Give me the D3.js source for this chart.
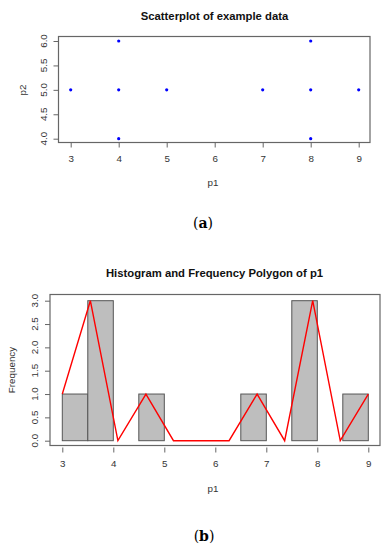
<!DOCTYPE html>
<html>
<head>
<meta charset="utf-8">
<script src="https://cdn.jsdelivr.net/npm/d3@7"></script>
<style>
  body { margin: 0; background: #fff; }
  svg { display: block; }
  text { font-family: "Liberation Sans", Arial, sans-serif; fill: #333; }
</style>
</head>
<body>
<figure id="chart" style="margin:0"></figure>
<script>
// scatter data (p1, p2)
const p1 = [3, 4, 4, 4, 5, 7, 8, 8, 8, 9];
const p2 = [5, 6, 5, 4, 5, 5, 6, 5, 4, 5];
const scatterXTicks = [3, 4, 5, 6, 7, 8, 9];
const scatterYTicks = [4.0, 4.5, 5.0, 5.5, 6.0];

// histogram bins of p1
const binStart = [3.0, 3.5, 4.0, 4.5, 5.0, 5.5, 6.0, 6.5, 7.0, 7.5, 8.0, 8.5];
const binEnd   = [3.5, 4.0, 4.5, 5.0, 5.5, 6.0, 6.5, 7.0, 7.5, 8.0, 8.5, 9.0];
const binCount = [1, 3, 0, 1, 0, 0, 0, 1, 0, 3, 0, 1];

// frequency polygon
const polyX = [3.0, 3.55, 4.09, 4.64, 5.18, 5.73, 6.27, 6.82, 7.36, 7.91, 8.45, 9.0];
const polyY = [1, 3, 0, 1, 0, 0, 0, 1, 0, 3, 0, 1];
const histXTicks = [3, 4, 5, 6, 7, 8, 9];
const histYTicks = [0.0, 0.5, 1.0, 1.5, 2.0, 2.5, 3.0];

const width = 387, height = 550;
const svg = d3.select("#chart").append("svg")
  .attr("width", width)
  .attr("height", height);

const axisCol = "#666";
const fmt1 = d3.format(".1f");
const labSize = "9.8px";

// ---------- (a) scatterplot ----------
const sx = d3.scaleLinear().domain([3, 9]).range([70.7, 358.7]);
const sy = d3.scaleLinear().domain([4, 6]).range([138.7, 41]);
const boxA = { l: 58.5, r: 370, t: 36.5, b: 142.5 };

svg.append("text")
  .attr("x", 214.5).attr("y", 20)
  .attr("text-anchor", "middle")
  .style("font-size", "11.3px").style("font-weight", "bold")
  .style("fill", "#111")
  .text("Scatterplot of example data");

svg.append("rect")
  .attr("x", boxA.l).attr("y", boxA.t)
  .attr("width", boxA.r - boxA.l).attr("height", boxA.b - boxA.t)
  .attr("fill", "none").attr("stroke", axisCol).attr("stroke-width", 1.2);

// x axis
const axA = svg.append("g")
  .attr("transform", "translate(0," + boxA.b + ")")
  .call(d3.axisBottom(sx).tickValues(scatterXTicks).tickSize(5).tickPadding(8).tickFormat(d3.format("d")));
axA.select(".domain").remove();
axA.selectAll("line").attr("stroke", axisCol);
axA.selectAll("text").style("font-size", labSize).attr("fill", "#333");

// y axis
const ayA = svg.append("g")
  .attr("transform", "translate(" + boxA.l + ",0)")
  .call(d3.axisLeft(sy).tickValues(scatterYTicks).tickSize(5).tickFormat(""));
ayA.select(".domain").remove();
ayA.selectAll("line").attr("stroke", axisCol);
svg.append("g").selectAll("text")
  .data(scatterYTicks)
  .enter()
  .append("text")
  .attr("transform", d => "translate(46.5," + sy(d) + ") rotate(-90)")
  .attr("text-anchor", "middle")
  .style("font-size", labSize)
  .text(d => fmt1(d));

svg.append("text")
  .attr("x", 213).attr("y", 185.5)
  .attr("text-anchor", "middle").style("font-size", labSize)
  .text("p1");
svg.append("text")
  .attr("transform", "translate(25.5,90) rotate(-90)")
  .attr("text-anchor", "middle").style("font-size", labSize)
  .text("p2");

// dots
svg.append("g").selectAll("circle")
  .data(p1)
  .enter()
  .append("circle")
  .attr("cx", d => sx(d))
  .attr("cy", (d, i) => sy(p2[i]))
  .attr("r", 1.6)
  .style("fill", "#0000ff");

svg.append("text")
  .attr("x", 203).attr("y", 228)
  .attr("text-anchor", "middle")
  .style("font-family", "'DejaVu Serif', 'Liberation Serif', serif")
  .style("font-size", "14px").style("fill", "#000")
  .html('(<tspan style="font-weight:bold">a</tspan>)');

// ---------- (b) histogram ----------
const hx = d3.scaleLinear().domain([3, 9]).range([62.3, 368.3]);
const hy = d3.scaleLinear().domain([0, 3]).range([440.7, 300.7]);
const boxB = { l: 50, r: 380, t: 294.5, b: 445.5 };

svg.append("text")
  .attr("x", 214.5).attr("y", 276.5)
  .attr("text-anchor", "middle")
  .style("font-size", "11.3px").style("font-weight", "bold")
  .style("fill", "#111")
  .text("Histogram and Frequency Polygon of p1");

svg.append("rect")
  .attr("x", boxB.l).attr("y", boxB.t)
  .attr("width", boxB.r - boxB.l).attr("height", boxB.b - boxB.t)
  .attr("fill", "none").attr("stroke", axisCol).attr("stroke-width", 1.2);

// bars
svg.append("g").selectAll("rect")
  .data(binCount)
  .enter()
  .append("rect")
  .attr("x", (d, i) => hx(binStart[i]))
  .attr("y", d => hy(d))
  .attr("width", (d, i) => hx(binEnd[i]) - hx(binStart[i]))
  .attr("height", d => hy(0) - hy(d))
  .attr("fill", "#bebebe")
  .attr("stroke", "#555")
  .attr("stroke-width", 1);

// polygon
const line = d3.line()
  .x(d => hx(d[0]))
  .y(d => hy(d[1]));
svg.append("path")
  .datum(polyX.map((x, i) => [x, polyY[i]]))
  .attr("d", line)
  .attr("fill", "none")
  .attr("stroke", "#ff0000")
  .attr("stroke-width", 1.4);

// x axis
const axB = svg.append("g")
  .attr("transform", "translate(0,447.5)")
  .call(d3.axisBottom(hx).tickValues(histXTicks).tickSize(5).tickPadding(8).tickFormat(d3.format("d")));
axB.select(".domain").remove();
axB.selectAll("line").attr("stroke", axisCol);
axB.selectAll("text").style("font-size", labSize).attr("fill", "#333");

// y axis
const ayB = svg.append("g")
  .attr("transform", "translate(" + boxB.l + ",0)")
  .call(d3.axisLeft(hy).tickValues(histYTicks).tickSize(5).tickFormat(""));
ayB.select(".domain").remove();
ayB.selectAll("line").attr("stroke", axisCol);
svg.append("g").selectAll("text")
  .data(histYTicks)
  .enter()
  .append("text")
  .attr("transform", d => "translate(37.5," + hy(d) + ") rotate(-90)")
  .attr("text-anchor", "middle")
  .style("font-size", labSize)
  .text(d => fmt1(d));

svg.append("text")
  .attr("x", 213).attr("y", 491.5)
  .attr("text-anchor", "middle").style("font-size", labSize)
  .text("p1");
svg.append("text")
  .attr("transform", "translate(14.5,370) rotate(-90)")
  .attr("text-anchor", "middle").style("font-size", labSize)
  .text("Frequency");

svg.append("text")
  .attr("x", 204).attr("y", 541)
  .attr("text-anchor", "middle")
  .style("font-family", "'DejaVu Serif', 'Liberation Serif', serif")
  .style("font-size", "14px").style("fill", "#000")
  .html('(<tspan style="font-weight:bold">b</tspan>)');
</script>
</body>
</html>
